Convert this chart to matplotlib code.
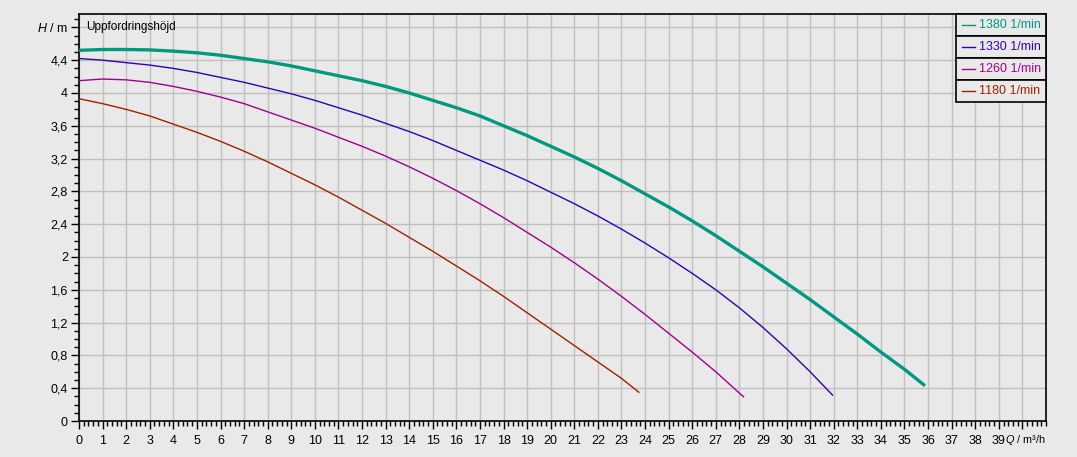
import matplotlib
matplotlib.use("Agg")
import matplotlib.pyplot as plt
import numpy as np
from matplotlib.patches import Rectangle
from matplotlib.lines import Line2D

plt.rcParams['font.family'] = ['Liberation Sans', 'DejaVu Sans']
plt.rcParams['mathtext.fontset'] = 'custom'
plt.rcParams['mathtext.it'] = 'Liberation Sans:italic'
plt.rcParams['mathtext.rm'] = 'Liberation Sans'

# pump curves, Q in m3/h, H in m
q_1380 = [0, 1, 2, 3, 4, 5, 6, 7, 8, 9, 10, 11, 12, 13, 14, 15, 16, 17, 18,
          19, 20, 21, 22, 23, 24, 25, 26, 27, 28, 29, 30, 31, 32, 33, 34, 35, 35.87]
h_1380 = [4.52, 4.53, 4.53, 4.525, 4.51, 4.49, 4.46, 4.42, 4.38, 4.33, 4.27, 4.21,
          4.15, 4.08, 4.00, 3.91, 3.82, 3.72, 3.60, 3.48, 3.35, 3.22, 3.08, 2.93,
          2.77, 2.61, 2.44, 2.26, 2.07, 1.88, 1.68, 1.48, 1.27, 1.06, 0.84, 0.63, 0.43]

q_1330 = [0, 1, 2, 3, 4, 5, 6, 7, 8, 9, 10, 11, 12, 13, 14, 15, 16, 17, 18,
          19, 20, 21, 22, 23, 24, 25, 26, 27, 28, 29, 30, 31, 31.97]
h_1330 = [4.42, 4.40, 4.37, 4.34, 4.30, 4.25, 4.19, 4.13, 4.06, 3.99, 3.91, 3.82,
          3.73, 3.63, 3.53, 3.42, 3.30, 3.18, 3.06, 2.93, 2.79, 2.65, 2.50, 2.34,
          2.17, 1.99, 1.80, 1.60, 1.38, 1.14, 0.88, 0.60, 0.31]

q_1260 = [0, 1, 2, 3, 4, 5, 6, 7, 8, 9, 10, 11, 12, 13, 14, 15, 16, 17, 18,
          19, 20, 21, 22, 23, 24, 25, 26, 27, 28, 28.2]
h_1260 = [4.15, 4.17, 4.16, 4.13, 4.08, 4.02, 3.95, 3.87, 3.77, 3.67, 3.57, 3.46,
          3.35, 3.23, 3.10, 2.96, 2.81, 2.65, 2.48, 2.30, 2.12, 1.93, 1.73, 1.52,
          1.30, 1.07, 0.84, 0.60, 0.34, 0.29]

q_1180 = [0, 1, 2, 3, 4, 5, 6, 7, 8, 9, 10, 11, 12, 13, 14, 15, 16, 17, 18,
          19, 20, 21, 22, 23, 23.76]
h_1180 = [3.93, 3.87, 3.80, 3.72, 3.62, 3.52, 3.41, 3.29, 3.16, 3.02, 2.88, 2.73,
          2.57, 2.41, 2.24, 2.07, 1.89, 1.71, 1.52, 1.32, 1.12, 0.92, 0.72, 0.52, 0.345]

labels = ['1380 1/min', '1330 1/min', '1260 1/min', '1180 1/min']
colors = ['#00997f', '#3300b0', '#a0008c', '#a02000']

bg = '#e9e9e9'
fig = plt.figure(figsize=(10.77, 4.57), dpi=100, facecolor=bg)
ax = fig.add_axes([79/1077, 36/457, 967/1077, 407/457], facecolor=bg)

curves = [(q_1380, h_1380, 2.4), (q_1330, h_1330, 1.0),
          (q_1260, h_1260, 1.0), (q_1180, h_1180, 1.0)]
for (q, h, lw), c in zip(curves, colors):
    ax.plot(q, h, color=c, lw=lw, solid_capstyle='butt', zorder=3)

ax.set_xlim(0, 41)
ax.set_ylim(0, 4.963)

xt = np.arange(0, 41)
ax.set_xticks(xt)
ax.set_xticklabels([str(v) for v in xt[:-1]] + [''])
ax.set_xticks(np.arange(0, 41.01, 0.2), minor=True)
yt = np.round(np.arange(0, 4.81, 0.4), 1)
ax.set_yticks(yt)
ylab = [('%g' % v).replace('.', ',') for v in yt[:-1]] + ['$H$ / m']
ax.set_yticklabels(ylab)
ax.set_yticks(np.arange(0, 4.95, 0.1), minor=True)

ax.tick_params(which='major', length=6, width=1, color='black', labelsize=9, pad=2)
ax.tick_params(which='minor', length=3.5, width=1, color='black')
ax.tick_params(axis='x', which='major', pad=4)
for s in ax.spines.values():
    s.set_color('black')
    s.set_linewidth(1.2)

ax.grid(True, which='major', color='#c0c0c0', lw=1)
ax.set_axisbelow(True)

ax.text(0.3, 4.8, 'Uppfordringshöjd', fontsize=8.5, va='center', ha='left')
ax.text(1.0, -19/407, '$Q$ / m³/h', transform=ax.transAxes, fontsize=7.8,
        va='center', ha='right')

# legend drawn as stacked boxes
lx0 = (956 - 79) / 967
rh = 22 / 407
for i, (lab, c) in enumerate(zip(labels, colors)):
    y0 = 1 - (i + 1) * rh
    ax.add_patch(Rectangle((lx0, y0), 1 - lx0, rh, transform=ax.transAxes,
                           facecolor=bg, edgecolor='black', lw=1.2, zorder=5,
                           clip_on=False))
    ax.add_line(Line2D([lx0 + 6/967, lx0 + 19/967], [y0 + rh/2, y0 + rh/2],
                       transform=ax.transAxes, color=c, lw=1, zorder=6))
    ax.text(lx0 + 23/967, y0 + rh/2, lab, transform=ax.transAxes, color=c,
            fontsize=9, va='center', ha='left', zorder=6)

fig.savefig('out.png', dpi=100, facecolor=bg)
